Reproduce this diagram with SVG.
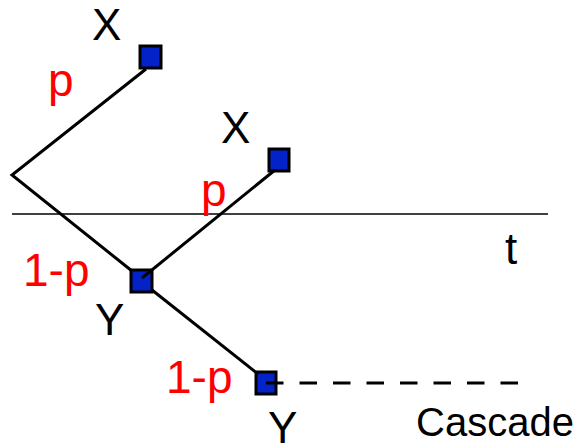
<svg xmlns="http://www.w3.org/2000/svg" width="575" height="446" viewBox="0 0 575 446">
<style>
.node{fill:#0322c8;stroke:#000;stroke-width:3}
.edge{stroke:#000;stroke-width:3;fill:none}
.lbl{font-family:"Liberation Sans",Arial,sans-serif;font-size:44px;fill:#000}
.prob{font-family:"Liberation Sans",Arial,sans-serif;font-size:46px;fill:#ff0000}
</style>
<rect width="575" height="446" fill="#fff"/>
<line x1="12" y1="214" x2="548" y2="214" stroke="#000" stroke-width="1.5"/>
<g id="x1"><rect class="node" x="140" y="46" width="21" height="22"/><text class="lbl" x="92" y="40">X</text></g>
<g id="x2"><rect class="node" x="269" y="149" width="20" height="22"/><text class="lbl" x="221" y="143">X</text></g>
<g id="y1"><rect class="node" x="131" y="270" width="21" height="22"/><text class="lbl" x="95" y="335">Y</text></g>
<g id="y2"><rect class="node" x="256" y="372" width="20" height="22"/><text class="lbl" x="268" y="443">Y</text></g>
<g id="connectors">
<polyline class="edge" points="146,69 12,175 132,271"/>
<line class="edge" x1="142" y1="278" x2="275" y2="170"/>
<line class="edge" x1="152" y1="290" x2="258" y2="374"/>
<line class="edge" x1="266" y1="383" x2="518" y2="383" stroke-dasharray="17.5 16"/>
</g>
<text class="prob" x="48" y="96">p</text>
<text class="prob" x="201" y="206">p</text>
<text class="prob" x="23" y="286">1-p</text>
<text class="prob" x="166" y="393">1-p</text>
<text class="lbl" x="505" y="264">t</text>
<text class="lbl" x="416" y="436" style="font-size:40px">Cascade</text>
</svg>
